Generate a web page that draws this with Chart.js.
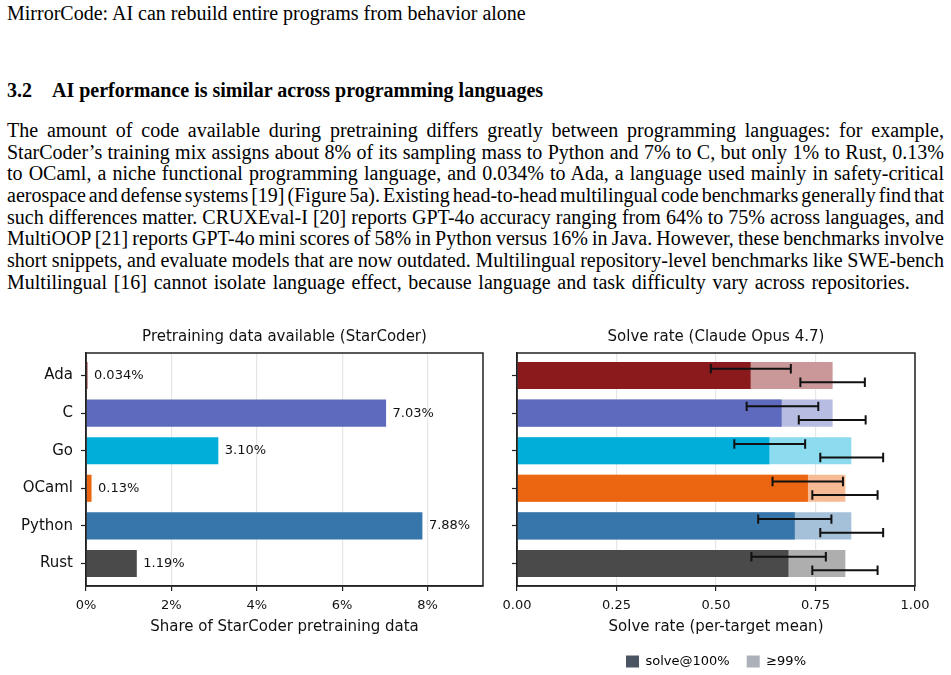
<!DOCTYPE html>
<html>
<head>
<meta charset="utf-8">
<title>MirrorCode 3.2</title>
<script src="https://cdn.jsdelivr.net/npm/chart.js@4.4.1/dist/chart.umd.min.js"></script>
<style>
  html, body { margin: 0; padding: 0; background: #fff; }
  body { width: 951px; height: 675px; position: relative; overflow: hidden;
         font-family: "Liberation Serif", "Times New Roman", serif; color: #000; }
  .runhead { position: absolute; left: 7px; top: 3px; font-size: 20px; line-height: 20px; white-space: nowrap; }
  .sec { position: absolute; left: 7px; top: 80px; font-size: 20px; line-height: 20px; font-weight: bold; white-space: nowrap; }
  .sec .num { display: inline-block; width: 45px; }
  .para { position: absolute; left: 7px; top: 120px; width: 937px; font-size: 20px; line-height: 21.7px; }
  .para div { height: 21.7px; text-align: justify; text-align-last: justify; word-spacing: -2.5px; }
  .para div.last { text-align-last: left; word-spacing: 1.7px; }
  .panel { position: absolute; }
</style>
</head>
<body>
<div class="runhead">MirrorCode: AI can rebuild entire programs from behavior alone</div>
<div class="sec"><span class="num">3.2</span>AI performance is similar across programming languages</div>
<div class="para">
  <div>The amount of code available during pretraining differs greatly between programming languages: for example,</div>
  <div>StarCoder’s training mix assigns about 8% of its sampling mass to Python and 7% to C, but only 1% to Rust, 0.13%</div>
  <div>to OCaml, a niche functional programming language, and 0.034% to Ada, a language used mainly in safety-critical</div>
  <div>aerospace and defense systems [19] (Figure 5a). Existing head-to-head multilingual code benchmarks generally find that</div>
  <div>such differences matter. CRUXEval-I [20] reports GPT-4o accuracy ranging from 64% to 75% across languages, and</div>
  <div>MultiOOP [21] reports GPT-4o mini scores of 58% in Python versus 16% in Java. However, these benchmarks involve</div>
  <div>short snippets, and evaluate models that are now outdated. Multilingual repository-level benchmarks like SWE-bench</div>
  <div class="last">Multilingual [16] cannot isolate language effect, because language and task difficulty vary across repositories.</div>
</div>

<canvas id="shareChart" class="panel" width="490" height="322" style="left:0px; top:318px;"></canvas>
<canvas id="solveChart" class="panel" width="461" height="360" style="left:490px; top:318px;"></canvas>

<script>
// data
const langs = ['Ada', 'C', 'Go', 'OCaml', 'Python', 'Rust'];
const shares = [0.034, 7.03, 3.10, 0.13, 7.88, 1.19];
const shareLabels = ['0.034%', '7.03%', '3.10%', '0.13%', '7.88%', '1.19%'];
const shareTicks = [0, 2, 4, 6, 8];

const solve100 = [0.587, 0.665, 0.634, 0.731, 0.698, 0.682];
const solve99 = [0.793, 0.793, 0.840, 0.825, 0.840, 0.825];
const lo100 = [0.487, 0.577, 0.546, 0.642, 0.606, 0.589];
const hi100 = [0.688, 0.757, 0.724, 0.819, 0.790, 0.776];
const lo99 = [0.712, 0.708, 0.762, 0.742, 0.762, 0.742];
const hi99 = [0.874, 0.876, 0.920, 0.906, 0.920, 0.906];
const legendLabels = ['solve@100%', '≥99%'];

// colours
const darkColors = ['#8b1a1c', '#5e6abe', '#00aed9', '#ec6611', '#3776ab', '#4a4a4a'];
const lightColors = ['#cb9899', '#b6bce2', '#8cdbee', '#f6ba94', '#a5c1d9', '#aeaeae'];
const legendColors = ['#4b5462', '#abb0b9'];

Chart.defaults.font.family = '"DejaVu Sans", sans-serif';
Chart.defaults.color = '#111';
Chart.defaults.animation = false;

const ink = '#222';

// full box around the plot area
const frame = {
  id: 'frame',
  afterDraw(chart) {
    const { ctx, chartArea: a } = chart;
    ctx.save();
    ctx.strokeStyle = ink;
    ctx.lineWidth = 1.5;
    ctx.strokeRect(a.left, a.top, a.right - a.left, a.bottom - a.top);
    ctx.restore();
  }
};

// value text at the end of each bar
const barLabels = {
  id: 'barLabels',
  afterDatasetsDraw(chart) {
    const { ctx } = chart;
    const meta = chart.getDatasetMeta(0);
    ctx.save();
    ctx.font = '13px "DejaVu Sans"';
    ctx.fillStyle = '#111';
    ctx.textBaseline = 'middle';
    ctx.textAlign = 'left';
    meta.data.forEach((bar, i) => ctx.fillText(shareLabels[i], bar.x + 6.5, bar.y));
    ctx.restore();
  }
};

// CI whiskers, upper one for solve@100%, lower one for >=99%
const errorBars = {
  id: 'errorBars',
  afterDatasetsDraw(chart) {
    const { ctx, scales: { x, y } } = chart;
    const draw = (lo, hi, pos) => {
      const yy = y.getPixelForValue(pos);
      const x0 = x.getPixelForValue(lo), x1 = x.getPixelForValue(hi);
      ctx.beginPath();
      ctx.moveTo(x0, yy); ctx.lineTo(x1, yy);
      ctx.moveTo(x0, yy - 4.7); ctx.lineTo(x0, yy + 4.7);
      ctx.moveTo(x1, yy - 4.7); ctx.lineTo(x1, yy + 4.7);
      ctx.stroke();
    };
    ctx.save();
    ctx.strokeStyle = '#111';
    ctx.lineWidth = 2;
    langs.forEach((_, i) => {
      draw(lo100[i], hi100[i], i - 0.18);
      draw(lo99[i], hi99[i], i + 0.18);
    });
    ctx.restore();
  }
};

function langAxis(showLabels, width) {
  return {
    type: 'linear', reverse: true, min: -0.6, max: 5.6, offset: false,
    afterBuildTicks: s => { s.ticks = langs.map((_, i) => ({ value: i })); },
    afterFit: s => { s.width = width; },
    grid: { offset: false, drawOnChartArea: false, tickLength: 5, tickColor: ink, tickWidth: 1.2 },
    border: { color: ink, width: 1.5 },
    ticks: { padding: 8, font: { size: 15 }, callback: v => showLabels ? langs[v] : '' }
  };
}

function panelTitle(text) {
  return { display: true, text: text, fullSize: false, color: '#111',
           font: { size: 15, weight: 'normal' }, padding: { top: 10, bottom: 7 } };
}

new Chart(document.getElementById('shareChart'), {
  type: 'bar',
  data: {
    datasets: [{
      data: langs.map((_, i) => ({ x: shares[i], y: i })),
      backgroundColor: darkColors,
      barPercentage: 0.72,
      categoryPercentage: 1
    }]
  },
  options: {
    responsive: false,
    indexAxis: 'y',
    layout: { padding: { left: 0, right: 7, top: 0, bottom: 0 } },
    scales: {
      x: {
        type: 'linear', min: 0, max: 9.3,
        afterBuildTicks: s => { s.ticks = shareTicks.map(v => ({ value: v })); },
        afterFit: s => { s.height = 54; },
        grid: { color: '#e6e6e6', lineWidth: 1.2, tickLength: 5, tickColor: ink, tickWidth: 1.2 },
        border: { color: ink, width: 1.5 },
        ticks: { padding: 7, font: { size: 13 }, maxRotation: 0, callback: v => v + '%' },
        title: { display: true, text: 'Share of StarCoder pretraining data', color: '#111',
                 font: { size: 15 }, padding: { top: 0, bottom: 4 } }
      },
      y: langAxis(true, 86)
    },
    plugins: {
      title: panelTitle('Pretraining data available (StarCoder)'),
      legend: { display: false },
      tooltip: { enabled: false }
    }
  },
  plugins: [barLabels, frame]
});

new Chart(document.getElementById('solveChart'), {
  type: 'bar',
  data: {
    datasets: [
      { label: legendLabels[0], data: langs.map((_, i) => ({ x: solve100[i], y: i })),
        backgroundColor: darkColors, order: 0 },
      { label: legendLabels[1], data: langs.map((_, i) => ({ x: solve99[i], y: i })),
        backgroundColor: lightColors, order: 1 }
    ]
  },
  options: {
    responsive: false,
    indexAxis: 'y',
    datasets: { bar: { grouped: false, barPercentage: 0.72, categoryPercentage: 1 } },
    layout: { padding: { left: 0, right: 36, top: 0, bottom: 0 } },
    scales: {
      x: {
        type: 'linear', min: 0, max: 1,
        afterFit: s => { s.height = 52; },
        grid: { color: '#e6e6e6', lineWidth: 1.2, tickLength: 5, tickColor: ink, tickWidth: 1.2 },
        border: { color: ink, width: 1.5 },
        ticks: { stepSize: 0.25, padding: 7, font: { size: 13 }, maxRotation: 0, callback: v => v.toFixed(2) },
        title: { display: true, text: 'Solve rate (per-target mean)', color: '#111',
                 font: { size: 15 }, padding: { top: 0, bottom: 2 } }
      },
      y: langAxis(false, 27)
    },
    plugins: {
      title: panelTitle('Solve rate (Claude Opus 4.7)'),
      legend: {
        position: 'bottom', fullSize: false,
        labels: {
          font: { size: 13 }, color: '#111', boxWidth: 13, boxHeight: 12, padding: 17,
          generateLabels: () => legendLabels.map((t, i) => ({
            text: t, fillStyle: legendColors[i], strokeStyle: legendColors[i], lineWidth: 0, datasetIndex: i
          }))
        }
      },
      tooltip: { enabled: false }
    }
  },
  plugins: [errorBars, frame]
});
</script>
</body>
</html>
